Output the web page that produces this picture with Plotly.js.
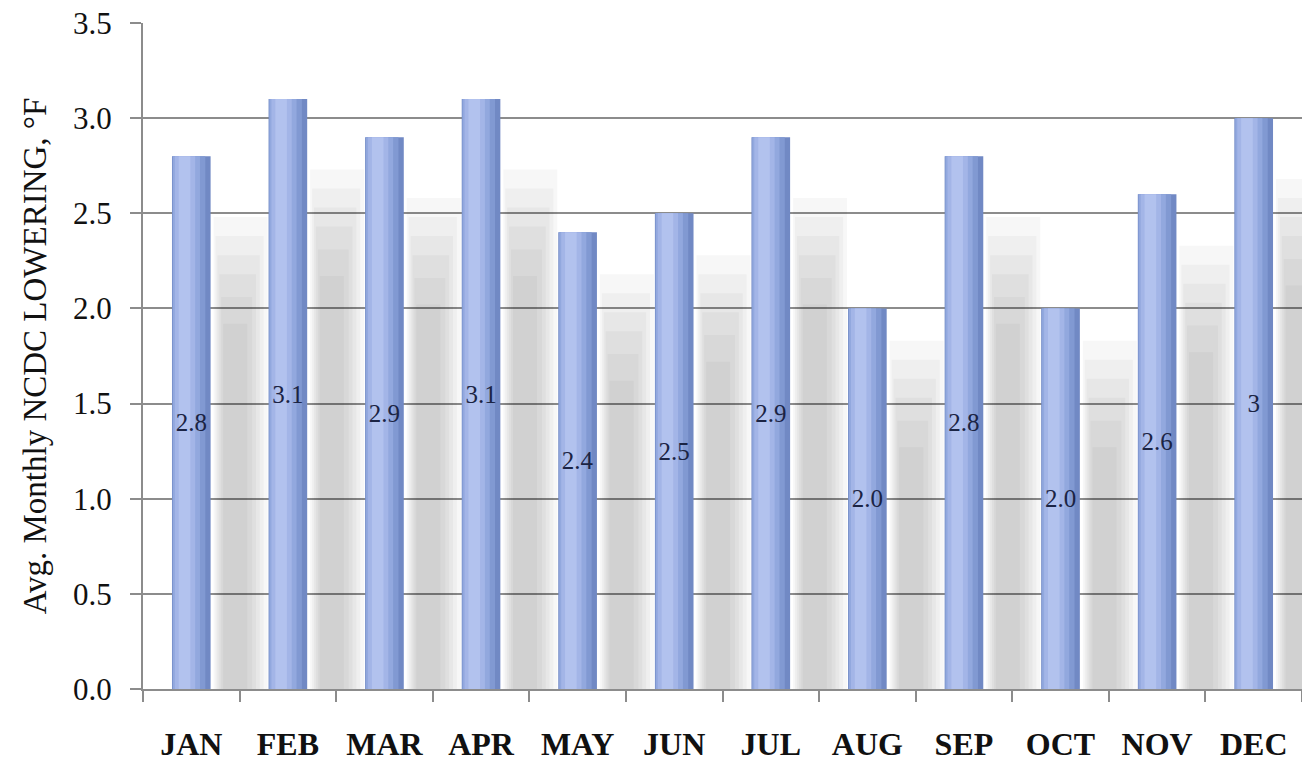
<!DOCTYPE html>
<html><head><meta charset="utf-8">
<script src="https://cdn.plot.ly/plotly-3.0.1.min.js"></script>
<style>html,body{margin:0;padding:0;background:#fff}#chart{width:1302px;height:764px}</style>
</head><body><div id="chart"></div>
<script>
const months = ["JAN","FEB","MAR","APR","MAY","JUN","JUL","AUG","SEP","OCT","NOV","DEC"];
const values = [2.8,3.1,2.9,3.1,2.4,2.5,2.9,2.0,2.8,2.0,2.6,3.0];
const valueLabels = ["2.8","3.1","2.9","3.1","2.4","2.5","2.9","2.0","2.8","2.0","2.6","3"];
const shadowTops = [2.3,2.55,2.4,2.55,2.0,2.1,2.4,1.65,2.3,1.65,2.15,2.5];
const yTicks = [0,0.5,1,1.5,2,2.5,3,3.5];

const serif = "Liberation Serif, Times New Roman, serif";
const traces = [];

// soft shadow layers to the right of each bar
const shadowLayers = [
  {d: 0.18, o: 0.23, w: 0.56},
  {d: 0.08, o: 0.25, w: 0.50},
  {d: -0.02, o: 0.27, w: 0.44},
  {d: -0.12, o: 0.29, w: 0.38},
  {d: -0.24, o: 0.31, w: 0.32},
  {d: -0.38, o: 0.33, w: 0.25}
];
shadowLayers.forEach(L => {
  traces.push({
    type: 'bar', x: months, y: shadowTops.map(s => s + L.d),
    offset: L.o, width: L.w,
    marker: {color: 'rgba(0,0,0,0.03)', line: {width: 0}},
    hoverinfo: 'skip', showlegend: false
  });
});

// bar body with a cylindrical gradient built from overlaid layers
const barLayers = [
  {o: -0.20, w: 0.40, c: '#7189c4'},
  {o: -0.195, w: 0.34, c: '#8199d2'},
  {o: -0.19, w: 0.28, c: '#92a8de'},
  {o: -0.17, w: 0.21, c: '#a3b5e7'},
  {o: -0.13, w: 0.12, c: '#b2c2ee'}
];
barLayers.forEach(L => {
  traces.push({
    type: 'bar', x: months, y: values,
    offset: L.o, width: L.w,
    marker: {color: L.c, line: {width: 0}},
    hoverinfo: 'skip', showlegend: false
  });
});

// value labels
traces.push({
  type: 'bar', x: months, y: values, offset: -0.2, width: 0.4,
  marker: {color: 'rgba(0,0,0,0)', line: {width: 0}},
  text: valueLabels, textposition: 'inside', insidetextanchor: 'middle',
  constraintext: 'none', textangle: 0,
  textfont: {family: serif, size: 25, color: '#1b2444'},
  hoverinfo: 'skip', showlegend: false
});

const layout = {
  width: 1302, height: 764,
  margin: {l: 143, r: 0, t: 23, b: 75},
  paper_bgcolor: '#ffffff', plot_bgcolor: '#ffffff',
  barmode: 'overlay', hovermode: false,
  xaxis: {
    type: 'category', tickson: 'boundaries', ticks: 'outside', ticklen: 11,
    tickwidth: 2, tickcolor: '#8c8c8c', showline: true, linecolor: '#8c8c8c', linewidth: 2,
    showgrid: false, ticklabelstandoff: 26,
    tickfont: {family: serif, size: 32, color: '#111111', weight: 'bold'},
    range: [-0.5, 11.5]
  },
  yaxis: {
    range: [0, 3.5], tickvals: yTicks, tickformat: '.1f',
    ticks: 'outside', ticklen: 11, tickwidth: 2, tickcolor: '#8c8c8c',
    showline: true, linecolor: '#8c8c8c', linewidth: 2,
    showgrid: true, gridcolor: '#8c8c8c', gridwidth: 2, zeroline: false,
    ticklabelstandoff: 12,
    tickfont: {family: serif, size: 31, color: '#111111'},
    title: {text: 'Avg. Monthly NCDC LOWERING, °F', standoff: 16,
            font: {family: serif, size: 33, color: '#111111'}}
  }
};

Plotly.newPlot('chart', traces, layout, {displayModeBar: false, staticPlot: true});
</script></body></html>
